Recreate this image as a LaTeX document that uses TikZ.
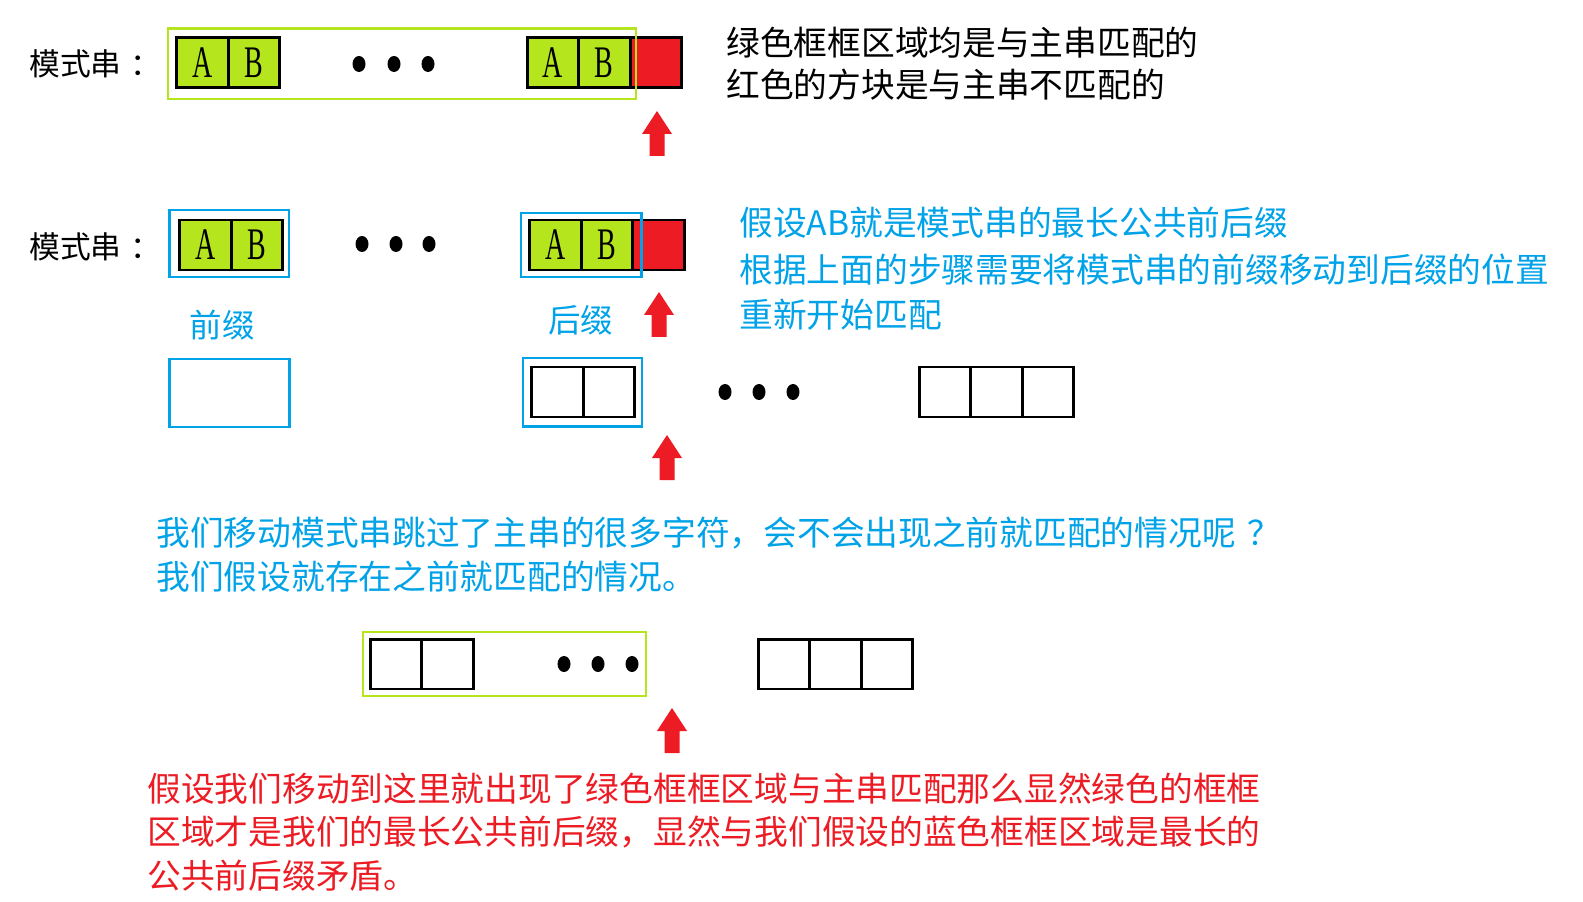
\documentclass[tikz,border=0pt]{standalone}
\usepackage{graphicx}
\usepackage{fontspec}
\setmainfont{Noto Sans CJK SC}
\newfontfamily\letterfont{Liberation Serif}
\definecolor{lime}{HTML}{B5E61D}
\definecolor{mred}{HTML}{ED1C24}
\definecolor{mblue}{HTML}{00A2E8}
\newcommand{\thinletter}[1]{\scalebox{0.62}[1]{#1}}
\begin{document}
\begin{tikzpicture}[x=0.02cm,y=-0.02cm,
    cell/.style={draw,line width=1.7pt,minimum width=1.03cm,minimum height=1cm,
      inner sep=0pt,font=\fontsize{25.7pt}{28pt}\letterfont},
    ab/.style={cell,fill=lime},
    miss/.style={cell,fill=mred},
    gframe/.style={draw=lime,line width=1.7pt},
    bframe/.style={draw=mblue,line width=1.7pt},
    txt/.style={anchor=west,inner sep=0pt,font=\fontsize{19.2pt}{23pt}\selectfont},
    tag/.style={inner sep=0pt,text=mblue,font=\fontsize{18.5pt}{22pt}\selectfont},
    uparrow/.style={fill=mred}]

        \fill[white] (0,0) rectangle (1583,902);
        \useasboundingbox (0,0) rectangle (1583,902);

        \begin{scope}[every node/.style={anchor=west,inner sep=0pt,font=\fontsize{17.5pt}{20pt}\selectfont}]
          \node (m1) at (29,64) {模式串\kern0.3em：};
          \node (m2) at (29,247) {模式串\kern0.3em：};
        \end{scope}

        % row 1
        \node[ab] (a1) at (202.3,62.5) {\thinletter{A}};
        \node[ab] (b1) at (253.8,62.5) {\thinletter{B}};
        \node[ab] (a2) at (552.8,62.5) {\thinletter{A}};
        \node[ab] (b2) at (604.3,62.5) {\thinletter{B}};
        \node[miss] (x1) at (655.8,62.5) {};
        \draw[gframe] (168,28.5) rectangle (636,99);

        % row 2
        \node[ab] (a3) at (205.3,245) {\thinletter{A}};
        \node[ab] (b3) at (256.8,245) {\thinletter{B}};
        \node[ab] (a4) at (555.3,245) {\thinletter{A}};
        \node[ab] (b4) at (606.8,245) {\thinletter{B}};
        \node[miss] (x2) at (658.3,245) {};
        \draw[bframe] (169.5,210) rectangle (289,277);
        \draw[bframe] (521,213) rectangle (641.5,277);
        \node[tag] (pre) at (222.5,325) {前缀};
        \node[tag] (suf) at (580.5,320) {后缀};

        % row 3
        \draw[bframe] (169.5,359) rectangle (289.5,427);
        \node[cell] (c1) at (557.3,392) {};
        \node[cell] (c2) at (608.8,392) {};
        \draw[bframe] (523,358) rectangle (642,426.5);
        \node[cell] (c3) at (944.8,392) {};
        \node[cell] (c4) at (996.3,392) {};
        \node[cell] (c5) at (1047.8,392) {};

        % row 4
        \node[cell] (d1) at (395.8,664) {};
        \node[cell] (d2) at (447.3,664) {};
        \draw[gframe] (363,632) rectangle (646,696);
        \node[cell] (d3) at (783.8,664) {};
        \node[cell] (d4) at (835.3,664) {};
        \node[cell] (d5) at (886.8,664) {};

        \foreach \x/\y in {359/64,394/64,428/64,362/244,396/244,429/244,
                           725/392,759/392,793/392,564/664,598/664,632/664}
          \fill (\x,\y) ellipse [x radius=0.13cm,y radius=0.16cm];

        \foreach \x/\y in {657/111,659/292,667/435,672/708}
          \fill[uparrow] (\x,\y) -- ++(15,23) -- ++(-7.5,0) -- ++(0,22)
            -- ++(-15,0) -- ++(0,-22) -- ++(-7.5,0) -- cycle;

        \begin{scope}[every node/.style={txt}]
          \node (n1) at (726,43) {绿色框框区域均是与主串匹配的};
          \node (n2) at (726,85) {红色的方块是与主串不匹配的};
          \node[text=mblue] (s1) at (739,223) {假设AB就是模式串的最长公共前后缀};
          \node[text=mblue] (s2) at (739,270) {根据上面的步骤需要将模式串的前缀移动到后缀的位置};
          \node[text=mblue] (s3) at (739,315) {重新开始匹配};
          \node[text=mblue] (q1) at (156,533) {我们移动模式串跳过了主串的很多字符，会不会出现之前就匹配的情况呢\kern0.35em？};
          \node[text=mblue] (q2) at (156,577) {我们假设就存在之前就匹配的情况。};
          \node[text=mred] (r1) at (147,789) {假设我们移动到这里就出现了绿色框框区域与主串匹配那么显然绿色的框框};
          \node[text=mred] (r2) at (147,832) {区域才是我们的最长公共前后缀，显然与我们假设的蓝色框框区域是最长的};
          \node[text=mred] (r3) at (147,876) {公共前后缀矛盾。};
        \end{scope}

      \end{tikzpicture}
\end{document}
